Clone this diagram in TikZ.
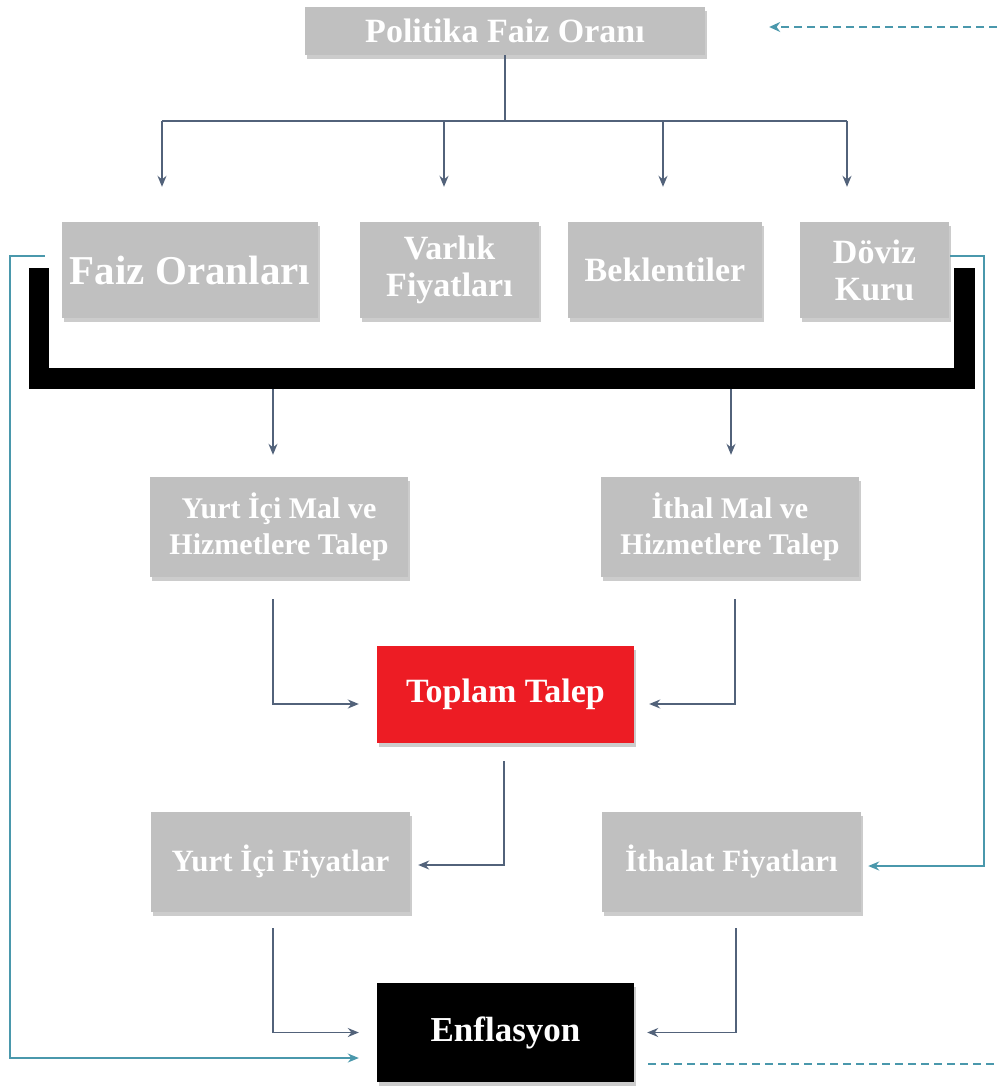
\documentclass[tikz,border=0pt]{standalone}
\usepackage{fontspec}
\setmainfont{Liberation Serif}
\usetikzlibrary{arrows.meta,shadows,calc}
\definecolor{boxgray}{HTML}{C0C0C0}
\definecolor{tred}{HTML}{ED1C24}
\definecolor{arrcol}{HTML}{52627A}
\definecolor{tealc}{HTML}{4A98AC}
\begin{document}
\begin{tikzpicture}[x=1pt,y=-1pt,
  box/.style={fill=boxgray, text=white, align=center, inner sep=0pt,
    font=\bfseries\fontsize{34}{37}\selectfont,
    drop shadow={shadow xshift=2pt,shadow yshift=-4pt,opacity=0.4}},
  conn/.style={draw=arrcol, line width=1.4pt},
  arr/.style={conn, -{Stealth[length=11pt,width=9pt]}},
  tealarr/.style={draw=tealc, line width=1.5pt, -{Stealth[length=11pt,width=9pt]}},
  dasharr/.style={draw=tealc, line width=2.5pt, dash pattern=on 8pt off 5pt},
  bracket/.style={draw=black, line width=20.5pt, line join=miter}
]
\useasboundingbox (0,0) rectangle (997,1086);
\fill[white] (0,0) rectangle (997,1086);

% nodes
\node[box, minimum width=400pt, minimum height=48pt] (pol) at (505,31) {Politika Faiz Oranı};
\node[box, minimum width=256pt, minimum height=96pt, font=\bfseries\fontsize{41}{44}\selectfont] (faiz) at (190,270) {Faiz Oranları};
\node[box, minimum width=179pt, minimum height=96pt] (varlik) at (449.5,270) {Varlık\\Fiyatları};
\node[box, minimum width=194pt, minimum height=96pt] (bek) at (665,270) {Beklentiler};
\node[box, minimum width=149pt, minimum height=96pt] (doviz) at (874.5,270) {Döviz\\Kuru};
\node[box, minimum width=258pt, minimum height=100pt, font=\bfseries\fontsize{30}{36}\selectfont] (yim) at (279,527) {Yurt İçi Mal ve\\Hizmetlere Talep};
\node[box, minimum width=258pt, minimum height=100pt, font=\bfseries\fontsize{30}{36}\selectfont] (ithal) at (730,527) {İthal Mal ve\\Hizmetlere Talep};
\node[box, fill=tred, minimum width=257pt, minimum height=97pt] (top) at (505.5,694.5) {Toplam Talep};
\node[box, minimum width=259pt, minimum height=100pt, font=\bfseries\fontsize{31}{34}\selectfont] (yif) at (280.5,862) {Yurt İçi Fiyatlar};
\node[box, minimum width=259pt, minimum height=100pt, font=\bfseries\fontsize{31}{34}\selectfont] (ithf) at (731.5,862) {İthalat Fiyatları};
\node[box, fill=black, minimum width=257pt, minimum height=99pt, font=\bfseries\fontsize{35}{38}\selectfont] (enf) at (505.5,1032.5) {Enflasyon};

% top distribution
\coordinate (hub) at (505,121);
\coordinate (hl) at (162,121);
\coordinate (hr) at (847,121);
\draw[conn] (pol.south) -- (hub);
\draw[conn] (hl) -- (hr);
\draw[arr, shorten >=35pt] (hl) -- (hl |- faiz.north);
\draw[arr, shorten >=35pt] ([xshift=-5.5pt]varlik.north |- hub) -- ([xshift=-5.5pt]varlik.north);
\draw[arr, shorten >=35pt] ([xshift=-2pt]bek.north |- hub) -- ([xshift=-2pt]bek.north);
\draw[arr, shorten >=35pt] (hr) -- (hr |- doviz.north);

% black bracket
\coordinate (b1) at (39,268);
\coordinate (b2) at (39,378.5);
\coordinate (b3) at (964.5,378.5);
\coordinate (b4) at (964.5,268);
\draw[bracket] (b1) -- (b2) -- (b3) -- (b4);

% bracket to demand boxes
\coordinate (bl) at (273,389);
\coordinate (br) at (731,389);
\draw[arr, shorten >=22pt] (bl) -- (bl |- yim.north);
\draw[arr, shorten >=22pt] (br) -- (br |- ithal.north);

% demand to total demand
\draw[arr] ([xshift=-6pt,yshift=-22pt]yim.south) |- ([xshift=-18pt,yshift=-9.5pt]top.west);
\draw[arr] ([xshift=5pt,yshift=-22pt]ithal.south) |- ([xshift=15pt,yshift=-9.5pt]top.east);

% total demand to domestic prices
\draw[arr] ([xshift=-1.5pt,yshift=-18pt]top.south) |- ([xshift=8pt,yshift=-3pt]yif.east);

% prices to inflation
\draw[arr] ([xshift=-7.5pt,yshift=-16pt]yif.south) |- ([xshift=-18pt]enf.west);
\draw[arr] ([xshift=4.5pt,yshift=-16pt]ithf.south) |- ([xshift=13pt]enf.east);

% teal side channels
\coordinate (tl) at (10,256);
\coordinate (tr) at (984,256);
\draw[tealarr] ([xshift=-17pt,yshift=14pt]faiz.west) -- (tl) |- ([xshift=-18pt,yshift=-25.5pt]enf.west);
\draw[tealarr] ([xshift=1pt,yshift=14pt]doviz.east) -- (tr) |- ([xshift=7pt,yshift=-4pt]ithf.east);

% dashed feedback
\coordinate (dtop) at (997,27);
\coordinate (dbot) at (997,1064);
\draw[dasharr, -{Stealth[length=11pt,width=10pt]}] (dtop) -- ([xshift=64pt,yshift=4pt]pol.east);
\draw[dasharr] ([xshift=14pt,yshift=-31.5pt]enf.east) -- (dbot);
\end{tikzpicture}
\end{document}
